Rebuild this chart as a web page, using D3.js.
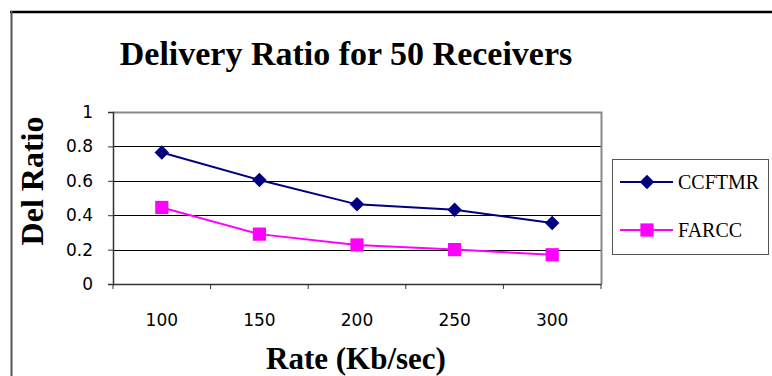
<!DOCTYPE html>
<html>
<head>
<meta charset="utf-8">
<script src="https://cdn.jsdelivr.net/npm/d3@7"></script>
<style>
  body { margin: 0; background: #fff; }
  svg { display: block; }
</style>
</head>
<body>
<div id="chart"></div>
<script>
// data
const rates = ['100', '150', '200', '250', '300'];
const ccftmr = [0.765, 0.605, 0.463, 0.432, 0.355];
const farcc = [0.445, 0.29, 0.227, 0.2, 0.17];
const yTicks = [0, 0.2, 0.4, 0.6, 0.8, 1];
const seriesNames = ['CCFTMR', 'FARCC'];
const seriesColors = ['#000080', '#ff00ff'];

const W = 772, H = 376;
const margin = {top: 112, right: 171, bottom: 92, left: 113};
const width = W - margin.left - margin.right;
const height = H - margin.top - margin.bottom;

const serif = '"Liberation Serif", "Times New Roman", serif';
const tickFont = '"DejaVu Sans", Verdana, sans-serif';

const svg = d3.select('#chart').append('svg')
    .attr('width', W)
    .attr('height', H);

// outer chart frame
svg.append('line')
    .attr('x1', 10).attr('x2', W).attr('y1', 12).attr('y2', 12)
    .attr('stroke', '#000').attr('stroke-width', 2.5);
svg.append('line')
    .attr('x1', 11.5).attr('x2', 11.5).attr('y1', 11).attr('y2', H)
    .attr('stroke', '#555').attr('stroke-width', 2);

svg.append('text')
    .attr('x', 346).attr('y', 65)
    .attr('text-anchor', 'middle')
    .style('font-family', serif)
    .style('font-weight', 'bold')
    .style('font-size', '34px')
    .text('Delivery Ratio for 50 Receivers');

const g = svg.append('g')
    .attr('transform', 'translate(' + margin.left + ',' + margin.top + ')');

let x = d3.scaleBand()
    .domain(rates)
    .range([0, width]);
let y = d3.scaleLinear()
    .domain([0, 1])
    .range([height, 0]);

// grid lines
g.selectAll('.grid')
    .data(yTicks.filter(d => d > 0 && d < 1))
  .enter().append('line')
    .attr('class', 'grid')
    .attr('x1', 0).attr('x2', width)
    .attr('y1', d => Math.round(y(d)) + 0.5)
    .attr('y2', d => Math.round(y(d)) + 0.5)
    .attr('stroke', '#000');

// plot area border (top / right)
g.append('path')
    .attr('d', 'M0,0.5H' + (width + 0.5) + 'V' + height)
    .attr('fill', 'none')
    .attr('stroke', '#888')
    .attr('stroke-width', 2);

// y axis
const yAxis = g.append('g')
    .call(d3.axisLeft(y).tickValues(yTicks).tickSize(5).tickPadding(15)
      .tickFormat(d => d3.format('')(d)));
yAxis.select('.domain').attr('stroke', '#333').attr('stroke-width', 1.5);
yAxis.selectAll('.tick line').attr('stroke', '#333');
yAxis.selectAll('text')
    .style('font-family', tickFont)
    .style('font-size', '17px')
    .attr('fill', '#000');

// x axis, ticks on the category boundaries
const xAxis = g.append('g')
    .attr('transform', 'translate(0,' + height + ')')
    .call(d3.axisBottom(x).tickSize(0).tickPadding(30));
xAxis.select('.domain').attr('stroke', '#333').attr('stroke-width', 1.5);
xAxis.selectAll('text')
    .style('font-family', tickFont)
    .style('font-size', '17px')
    .attr('fill', '#000');
xAxis.selectAll('.bound')
    .data(d3.range(rates.length + 1))
  .enter().append('line')
    .attr('class', 'bound')
    .attr('x1', i => i * x.step()).attr('x2', i => i * x.step())
    .attr('y1', 0).attr('y2', 5)
    .attr('stroke', '#333');

svg.append('text')
    .attr('transform', 'translate(43,181) rotate(-90)')
    .attr('text-anchor', 'middle')
    .style('font-family', serif)
    .style('font-weight', 'bold')
    .style('font-size', '32px')
    .text('Del Ratio');

svg.append('text')
    .attr('x', 356).attr('y', 369)
    .attr('text-anchor', 'middle')
    .style('font-family', serif)
    .style('font-weight', 'bold')
    .style('font-size', '31px')
    .text('Rate (Kb/sec)');

// series
const cx = d => x(d) + x.bandwidth() / 2;
const line = d3.line()
    .x((d, i) => cx(rates[i]))
    .y(d => y(d));

// diamond = square turned 45 degrees
const diamond = d3.symbol().type(d3.symbolSquare).size(105);
const square = d3.symbol().type(d3.symbolSquare).size(175);

function marker(sel, k) {
  sel.attr('d', k === 0 ? diamond : square)
     .attr('fill', seriesColors[k]);
}

[ccftmr, farcc].forEach((vals, k) => {
  g.append('path')
      .datum(vals)
      .attr('d', line)
      .attr('fill', 'none')
      .attr('stroke', seriesColors[k])
      .attr('stroke-width', 2);
  g.selectAll('.m' + k)
      .data(vals)
    .enter().append('path')
      .attr('class', 'm' + k)
      .attr('transform', (d, i) => 'translate(' + cx(rates[i]) + ',' + y(d) + ')' + (k === 0 ? ' rotate(45)' : ''))
      .call(marker, k);
});

// legend
const lg = svg.append('g');
lg.append('rect')
    .attr('x', 612.5).attr('y', 159.5)
    .attr('width', 156).attr('height', 95)
    .attr('fill', '#fff')
    .attr('stroke', '#555');
seriesNames.forEach((name, k) => {
  const ly = 182 + k * 48;
  lg.append('line')
      .attr('x1', 620).attr('x2', 673)
      .attr('y1', ly).attr('y2', ly)
      .attr('stroke', seriesColors[k])
      .attr('stroke-width', 2);
  lg.append('path')
      .attr('transform', 'translate(647,' + ly + ')' + (k === 0 ? ' rotate(45)' : ''))
      .call(marker, k);
  lg.append('text')
      .attr('x', 678).attr('y', ly + 7)
      .style('font-family', serif)
      .style('font-size', '20px')
      .text(name);
});
</script>
</body>
</html>
